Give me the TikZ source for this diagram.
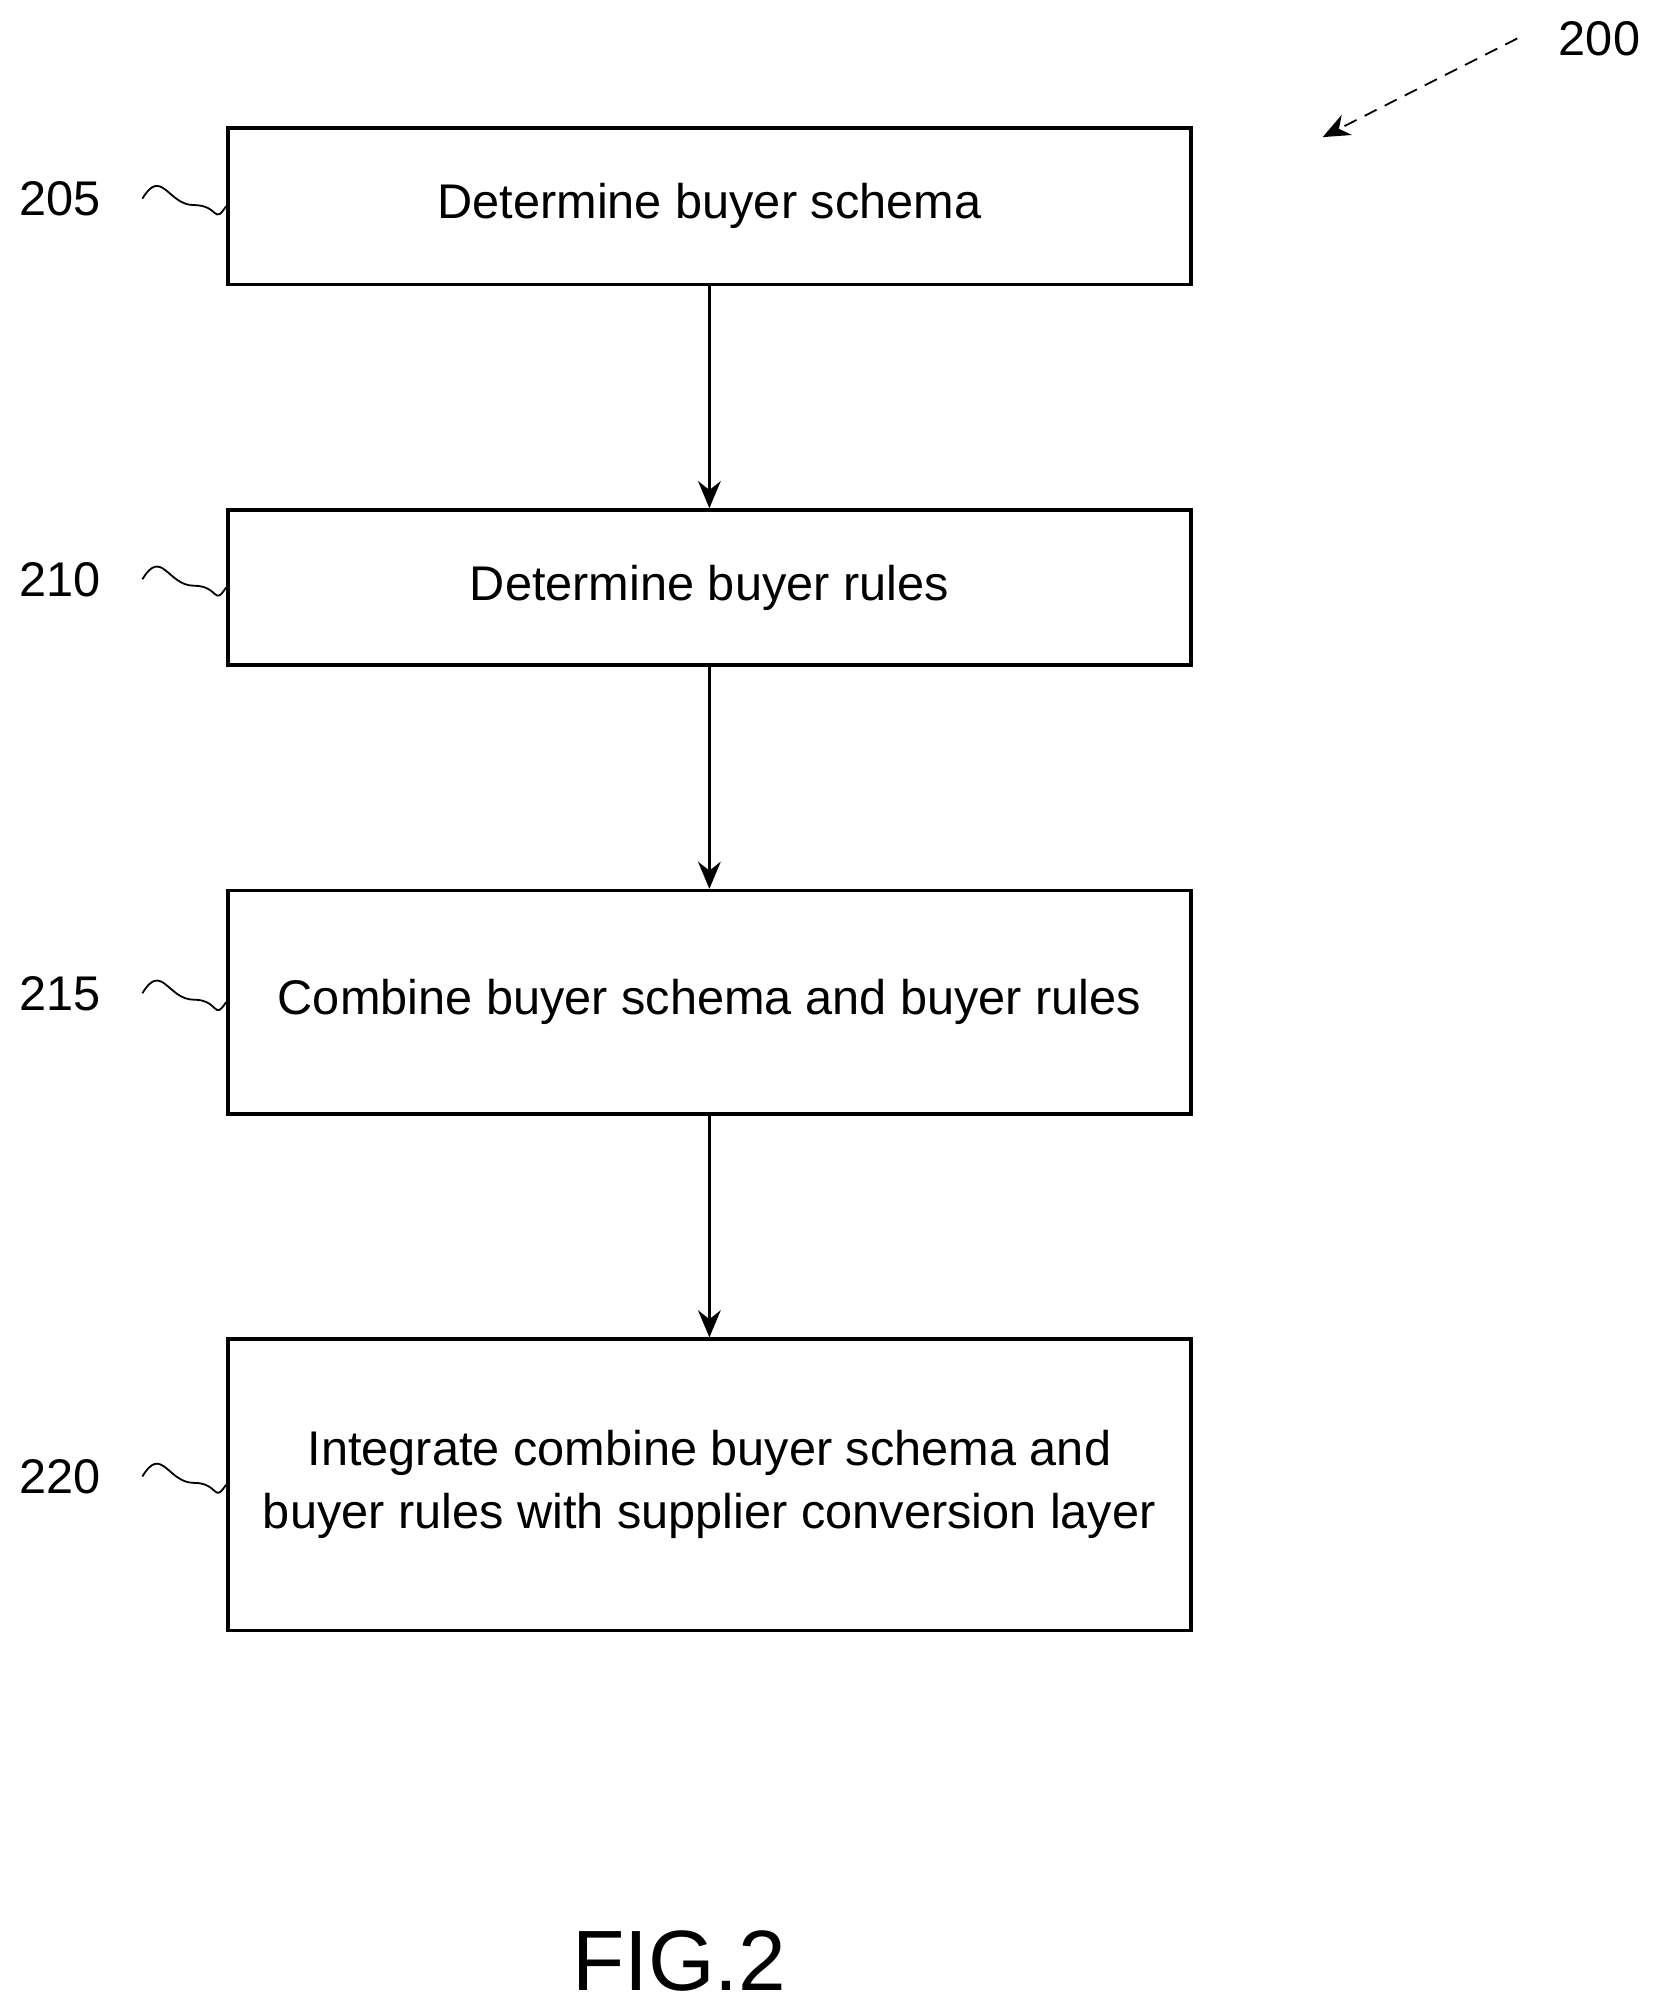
\documentclass[tikz,border=0pt]{standalone}
\usepackage{fontspec}
\setmainfont{Liberation Sans}
\usetikzlibrary{positioning,arrows.meta}

\begin{document}
\begin{tikzpicture}[
    x=0.01cm, y=-0.01cm,
    font={\fontsize{10.8}{13}\selectfont},
    stepbox/.style={draw,thick,minimum width=7.51cm,align=center,inner sep=0pt},
    lbl/.style={font={\fontsize{10.8}{13}\selectfont}},
    flow/.style={-{Stealth[length=6pt,width=5pt]},thick},
]
    \useasboundingbox (0,0) rectangle (1300,1573);

    % Steps
    \node[stepbox,minimum height=1.22cm] (schema)  at (553.5,161)  {Determine buyer schema};
    \node[stepbox,minimum height=1.21cm] (rules)   at (553.5,458.5) {Determine buyer rules};
    \node[stepbox,minimum height=1.74cm] (combine) at (553.5,782)  {Combine buyer schema and buyer rules};
    \node[stepbox,minimum height=2.27cm] (integrate) at (553.5,1158.5)
        {Integrate combine buyer schema and\\[1pt]buyer rules with supplier conversion layer};

    % Reference numerals
    \node[lbl] (n205) at (47,155)  {205};
    \node[lbl] (n210) at (47,452)  {210};
    \node[lbl] (n215) at (47,775)  {215};
    \node[lbl] (n220) at (47,1152) {220};
    \node[lbl] (n200) at (1248,30) {200};
    \node[font={\fontsize{19}{23}\selectfont}] (fig) at (530,1530) {FIG.2};

    % Squiggles
    \foreach \n/\s in {n205/schema,n210/rules,n215/combine,n220/integrate}
        \draw (\n.east) ++(20,0) .. controls +(15,-25) and +(-20,0) .. ++(40,5)
            .. controls +(20,0) and +(-10,15) .. (\s.west);

    % Arrows
    \draw[flow] (schema)  -- (rules);
    \draw[flow] (rules)   -- (combine);
    \draw[flow] (combine) -- (integrate);
    \coordinate (fig200) at (1032,107);
    \draw[flow,densely dashed,thin] (n200.west) ++(-20,0) -- (fig200);

\end{tikzpicture}
\end{document}
